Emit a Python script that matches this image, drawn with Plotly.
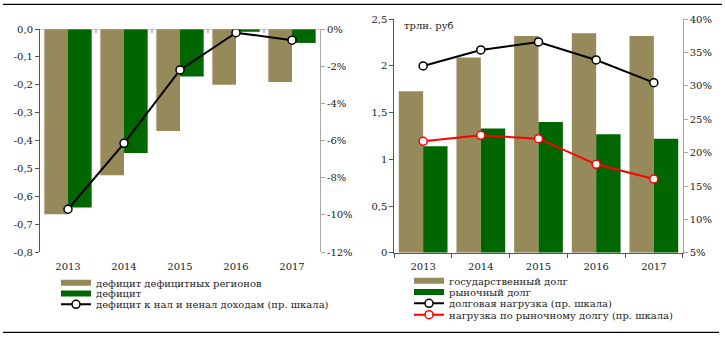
import plotly.graph_objects as go

# ---- data -------------------------------------------------------------
years = ["2013", "2014", "2015", "2016", "2017"]

# left panel: regional budget deficits, trn rub; ratio in % (right scale)
deficit_regions = [-0.665, -0.525, -0.366, -0.20, -0.19]
deficit = [-0.64, -0.445, -0.17, -0.01, -0.05]
deficit_to_income = [-9.7, -6.15, -2.2, -0.2, -0.6]

# right panel: regional debt, trn rub; debt burden in % (right scale)
state_debt = [1.73, 2.09, 2.32, 2.35, 2.32]
market_debt = [1.14, 1.33, 1.40, 1.27, 1.22]
debt_load = [33.0, 35.4, 36.6, 33.9, 30.5]
market_debt_load = [21.7, 22.6, 22.1, 18.25, 16.05]

# tick labels
left_vals = [0, -0.1, -0.2, -0.3, -0.4, -0.5, -0.6, -0.7, -0.8]
left_text = ["0,0", "-0,1", "-0,2", "-0,3", "-0,4", "-0,5", "-0,6", "-0,7", "-0,8"]
left_pct_vals = [0, -2, -4, -6, -8, -10, -12]
left_pct_text = ["0%", "-2%", "-4%", "-6%", "-8%", "-10%", "-12%"]
right_vals = [0, 0.5, 1, 1.5, 2, 2.5]
right_text = ["0", "0,5", "1", "1,5", "2", "2,5"]
right_pct_vals = [5, 10, 15, 20, 25, 30, 35, 40]
right_pct_text = ["5%", "10%", "15%", "20%", "25%", "30%", "35%", "40%"]

# ---- styling ----------------------------------------------------------
W, H = 725, 338
TAN = "#978A5A"
GREEN = "#006600"
FONT = dict(family="DejaVu Serif", size=10, color="#222222")
DARK_AX = "#555555"
LIGHT_AX = "#A6A6A6"


def px_x(p):
    return p / W


def px_y(p):
    return 1 - p / H


fig = go.Figure()

# left panel bars
fig.add_trace(go.Bar(x=years, y=deficit_regions, marker_color=TAN, marker_line_width=0,
                     xaxis="x", yaxis="y", showlegend=False))
fig.add_trace(go.Bar(x=years, y=deficit, marker_color=GREEN, marker_line_width=0,
                     xaxis="x", yaxis="y", showlegend=False))
# left panel legend swatches for the bars
fig.add_trace(go.Scatter(x=[None], y=[None], mode="lines", line=dict(color=TAN, width=6),
                         name="дефицит дефицитных регионов", xaxis="x", yaxis="y", legend="legend"))
fig.add_trace(go.Scatter(x=[None], y=[None], mode="lines", line=dict(color=GREEN, width=6),
                         name="дефицит", xaxis="x", yaxis="y", legend="legend2"))
fig.add_trace(go.Scatter(x=years, y=deficit_to_income, mode="lines+markers",
                         line=dict(color="black", width=2),
                         marker=dict(size=8, color="white", line=dict(color="black", width=1.5)),
                         name="дефицит к нал и ненал доходам (пр. шкала)",
                         xaxis="x", yaxis="y2", legend="legend3"))

# right panel bars
fig.add_trace(go.Bar(x=years, y=state_debt, marker_color=TAN, marker_line_width=0,
                     xaxis="x2", yaxis="y3", showlegend=False))
fig.add_trace(go.Bar(x=years, y=market_debt, marker_color=GREEN, marker_line_width=0,
                     xaxis="x2", yaxis="y3", showlegend=False))
fig.add_trace(go.Scatter(x=[None], y=[None], mode="lines", line=dict(color=TAN, width=6),
                         name="государственный долг", xaxis="x2", yaxis="y3", legend="legend4"))
fig.add_trace(go.Scatter(x=[None], y=[None], mode="lines", line=dict(color=GREEN, width=6),
                         name="рыночный долг", xaxis="x2", yaxis="y3", legend="legend5"))
fig.add_trace(go.Scatter(x=years, y=debt_load, mode="lines+markers",
                         line=dict(color="black", width=2),
                         marker=dict(size=8, color="white", line=dict(color="black", width=1.5)),
                         name="долговая нагрузка (пр. шкала)",
                         xaxis="x2", yaxis="y4", legend="legend6"))
fig.add_trace(go.Scatter(x=years, y=market_debt_load, mode="lines+markers",
                         line=dict(color="#FF0000", width=2),
                         marker=dict(size=8, color="white", line=dict(color="#FF0000", width=1.5)),
                         name="нагрузка по рыночному долгу (пр. шкала)",
                         xaxis="x2", yaxis="y4", legend="legend7"))

axis_common = dict(showgrid=False, tickfont=FONT, automargin=False, fixedrange=True)

layout = dict(
    width=W, height=H,
    margin=dict(l=0, r=0, t=0, b=0),
    paper_bgcolor="white", plot_bgcolor="rgba(0,0,0,0)",
    barmode="group", bargap=0.155, bargroupgap=0,
    font=FONT,
    showlegend=True,
    xaxis=dict(domain=[px_x(40), px_x(320)], anchor="y", type="category",
               showline=False, ticks="", ticklabelstandoff=7, zeroline=False, **axis_common),
    yaxis=dict(domain=[px_y(252), px_y(29)], anchor="x", range=[-0.8, 0],
               tickvals=left_vals, ticktext=left_text, ticks="outside", ticklen=4,
               tickcolor=DARK_AX, showline=True, linecolor=DARK_AX, linewidth=1,
               zeroline=False, **axis_common),
    yaxis2=dict(overlaying="y", side="right", anchor="x", range=[-12, 0],
                tickvals=left_pct_vals, ticktext=left_pct_text, ticks="outside", ticklen=4,
                tickcolor=LIGHT_AX, showline=True, linecolor=LIGHT_AX, linewidth=1,
                zeroline=False, **axis_common),
    xaxis2=dict(domain=[px_x(394.3), px_x(682.7)], anchor="y3", type="category",
                showline=True, linecolor=DARK_AX, linewidth=1, ticks="outside",
                tickson="boundaries", ticklen=4, tickcolor=DARK_AX, zeroline=False,
                ticklabelstandoff=4, **axis_common),
    yaxis3=dict(domain=[px_y(252.7), px_y(19.3)], anchor="x2", range=[0, 2.5],
                tickvals=right_vals, ticktext=right_text, ticks="outside", ticklen=4,
                tickcolor=DARK_AX, showline=True, linecolor=DARK_AX, linewidth=1,
                zeroline=False, **axis_common),
    yaxis4=dict(overlaying="y3", side="right", anchor="x2", range=[5, 40],
                tickvals=right_pct_vals, ticktext=right_pct_text, ticks="outside", ticklen=4,
                tickcolor=LIGHT_AX, showline=True, linecolor=LIGHT_AX, linewidth=1,
                zeroline=False, **axis_common),
)

# one single-entry legend per row, so rows sit tight like the source layout
legend_rows = [
    ("legend", 56, 282.7), ("legend2", 56, 293.5), ("legend3", 56, 304.3),
    ("legend4", 409, 280.7), ("legend5", 409, 292.0), ("legend6", 409, 303.3),
    ("legend7", 409, 314.7),
]
for key, lx, ly in legend_rows:
    layout[key] = dict(x=px_x(lx), y=px_y(ly), xanchor="left", yanchor="middle",
                       bgcolor="rgba(0,0,0,0)", borderwidth=0, font=FONT,
                       itemwidth=30, tracegroupgap=0)

fig.update_layout(**layout)

# zero line of the left panel (category axis crosses at 0) with boundary ticks
shapes = [
    dict(type="line", xref="x domain", yref="y", x0=0, x1=1, y0=0, y1=0,
         line=dict(color=LIGHT_AX, width=1)),
]
for b in [0.5, 1.5, 2.5, 3.5]:
    shapes.append(dict(type="line", xref="x", yref="y domain", x0=b, x1=b, y0=0.982, y1=1.0,
                       line=dict(color="#808080", width=1)))
# frame rules above and below the figure
shapes.append(dict(type="line", xref="paper", yref="paper", x0=px_x(3), x1=px_x(722),
                   y0=px_y(4.3), y1=px_y(4.3), line=dict(color="black", width=1.3)))
shapes.append(dict(type="line", xref="paper", yref="paper", x0=px_x(3), x1=px_x(719),
                   y0=px_y(332.3), y1=px_y(332.3), line=dict(color="black", width=1.3)))
fig.update_layout(shapes=shapes)

fig.add_annotation(text="трлн. руб", xref="paper", yref="paper", x=px_x(402), y=px_y(25.7),
                   xanchor="left", yanchor="middle", showarrow=False, font=FONT)

fig.write_html("out.html", config={"displayModeBar": False})
